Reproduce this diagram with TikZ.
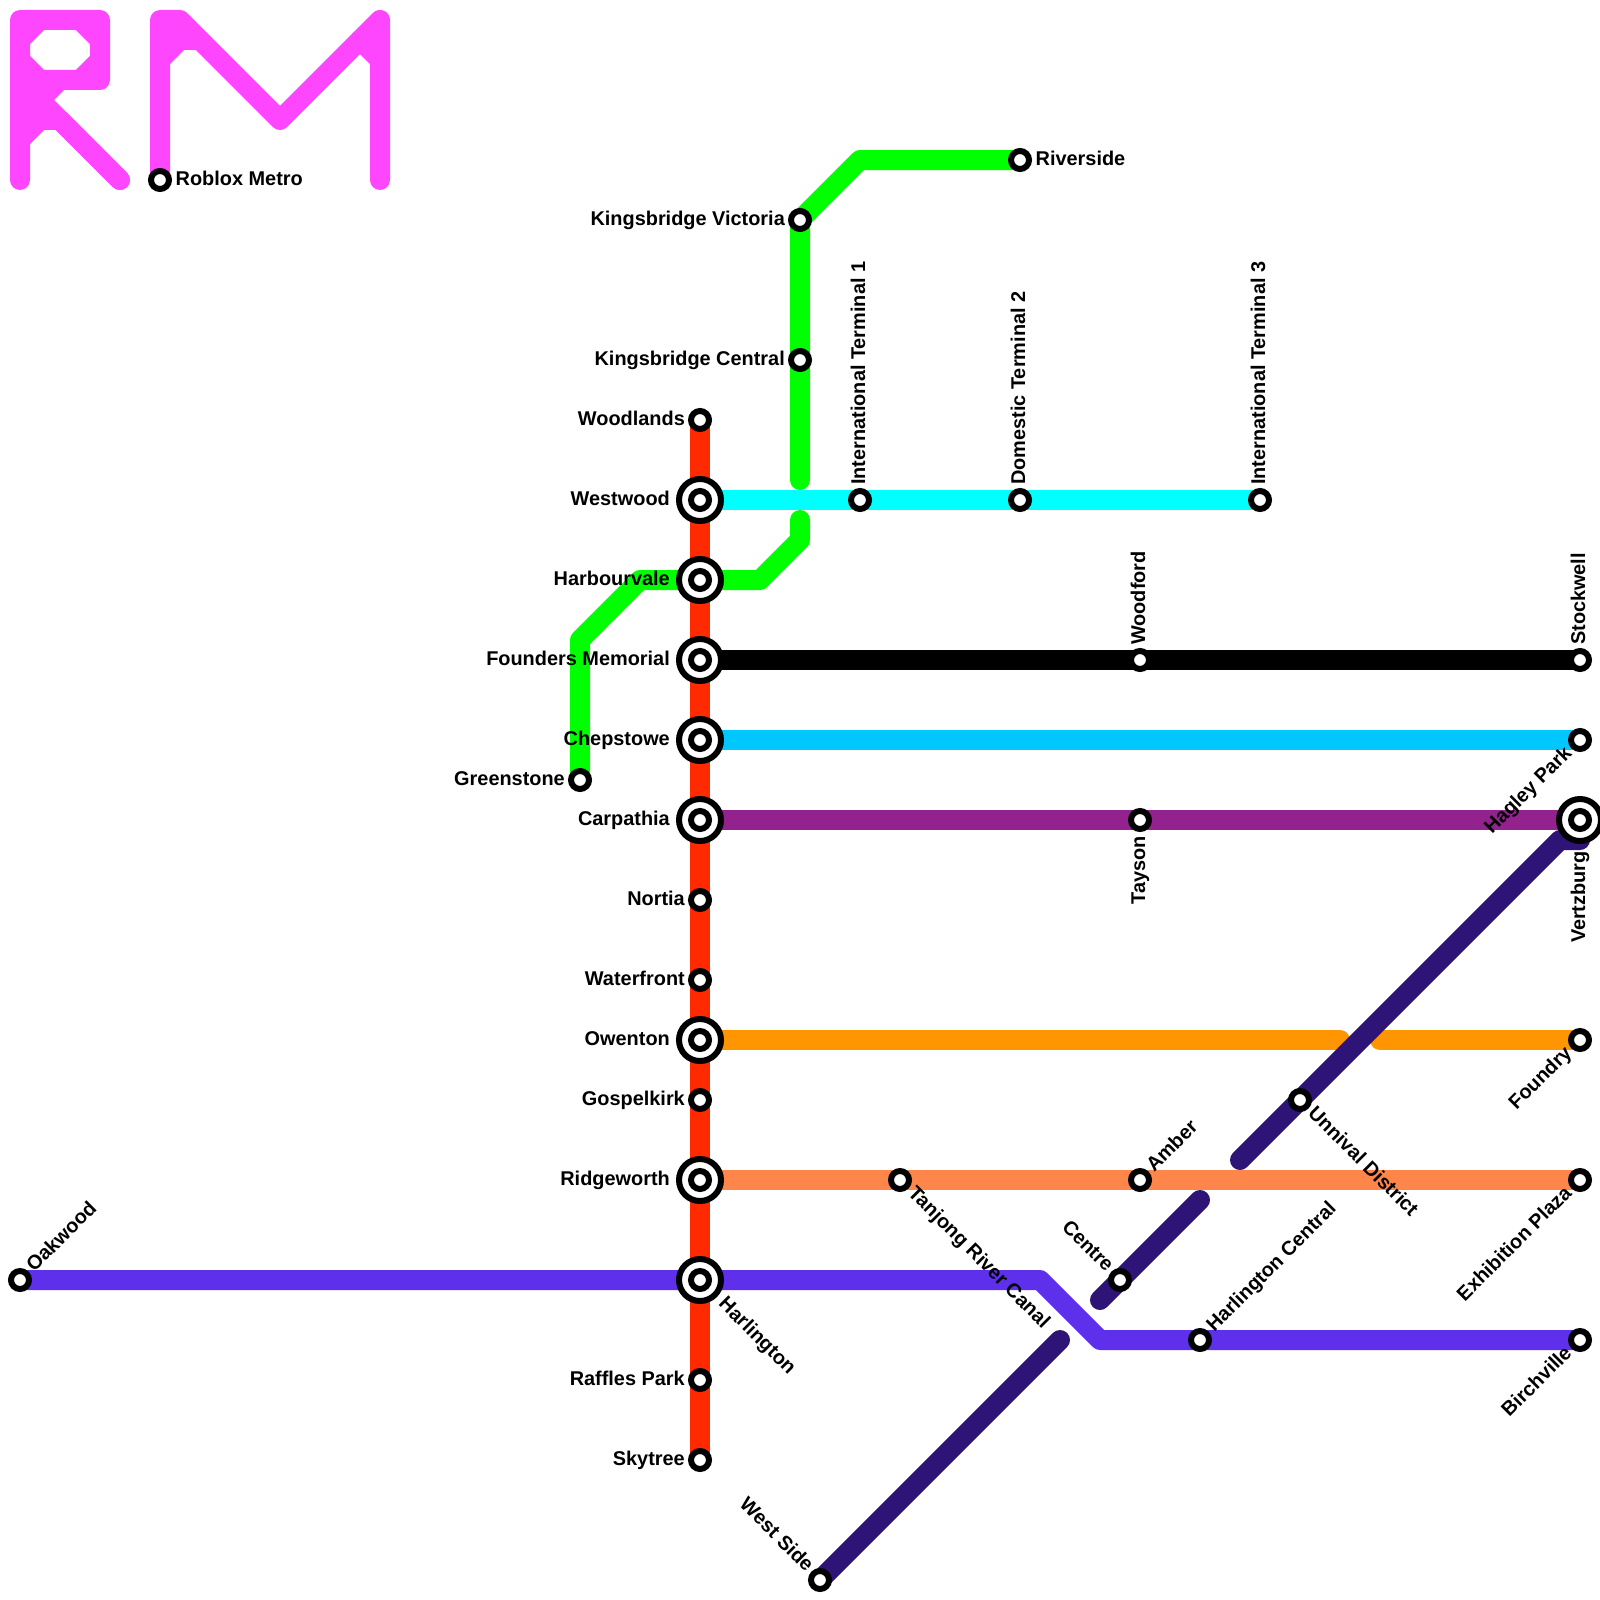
\documentclass[tikz,border=0pt]{standalone}
\usepackage{fontspec}
\setmainfont{Liberation Sans}
\usepackage{xcolor}
\usepackage{tikz}
\usetikzlibrary{backgrounds}
\definecolor{linered}{HTML}{FF2A00}
\definecolor{linegreen}{HTML}{00FF00}
\definecolor{linecyan}{HTML}{00FFFF}
\definecolor{linesky}{HTML}{00C8FF}
\definecolor{linepurple}{HTML}{93228F}
\definecolor{lineindigo}{HTML}{2D1476}
\definecolor{lineviolet}{HTML}{5E30EB}
\definecolor{lineorange}{HTML}{FF9500}
\definecolor{linecoral}{HTML}{FF864A}
\definecolor{logopink}{HTML}{FF46FF}
\tikzset{
  metro line/.style = {line width=20pt, line cap=round, line join=round},
  logo line/.style  = {metro line, logopink},
  stop/.style       = {circle, draw=black, fill=white, line width=6pt,
                       inner sep=0pt, minimum size=18pt},
  hub/.style        = {stop, minimum size=42pt,
                       path picture={\draw[line width=6pt]
                         (path picture bounding box.center) circle (9pt);}},
  stop name/.style  = {inner sep=0pt, font=\fontsize{19.9}{24}\selectfont\bfseries},
  name left/.style  = {stop name, anchor=base east, xshift=-15pt, yshift=-5pt},
  hub left/.style   = {name left, xshift=-15pt},
  name right/.style = {stop name, anchor=base west, xshift=15.5pt, yshift=-5pt},
  name up/.style    = {stop name, rotate=90, anchor=base west, xshift=15pt, yshift=-5pt},
  name down/.style  = {stop name, rotate=90, anchor=base east, xshift=-16pt, yshift=-5pt},
  name ne/.style    = {stop name, rotate=45, anchor=base west, xshift=15pt, yshift=-5pt},
  name se/.style    = {stop name, rotate=-45, anchor=base west, xshift=15pt, yshift=-5pt},
  name sw/.style    = {stop name, rotate=45, anchor=base east, xshift=-15pt, yshift=-5pt},
  name nw/.style    = {stop name, rotate=-45, anchor=base east, xshift=-15pt, yshift=-5pt},
}
\begin{document}
\begin{tikzpicture}[x=1pt,y=-1pt]
  \useasboundingbox (0,0) rectangle (1600,1600);
  \node[stop] (roblox) at (160,180) {};
  \node[stop] (woodlands) at (700,420) {};
  \node[hub] (westwood) at (700,500) {};
  \node[hub] (harbourvale) at (700,580) {};
  \node[hub] (founders) at (700,660) {};
  \node[hub] (chepstowe) at (700,740) {};
  \node[hub] (carpathia) at (700,820) {};
  \node[stop] (nortia) at (700,900) {};
  \node[stop] (waterfront) at (700,980) {};
  \node[hub] (owenton) at (700,1040) {};
  \node[stop] (gospelkirk) at (700,1100) {};
  \node[hub] (ridgeworth) at (700,1180) {};
  \node[hub] (harlington) at (700,1280) {};
  \node[stop] (raffles) at (700,1380) {};
  \node[stop] (skytree) at (700,1460) {};
  \node[stop] (riverside) at (1020,160) {};
  \node[stop] (kbvictoria) at (800,220) {};
  \node[stop] (kbcentral) at (800,360) {};
  \node[stop] (greenstone) at (580,780) {};
  \node[stop] (terminalone) at (860,500) {};
  \node[stop] (terminaltwo) at (1020,500) {};
  \node[stop] (terminalthree) at (1260,500) {};
  \node[stop] (woodford) at (1140,660) {};
  \node[stop] (stockwell) at (1580,660) {};
  \node[stop] (hagley) at (1580,740) {};
  \node[stop] (tayson) at (1140,820) {};
  \node[hub] (vertzburg) at (1580,820) {};
  \node[stop] (foundry) at (1580,1040) {};
  \node[stop] (unnival) at (1300,1100) {};
  \node[stop] (tanjong) at (900,1180) {};
  \node[stop] (amber) at (1140,1180) {};
  \node[stop] (exhibition) at (1580,1180) {};
  \node[stop] (oakwood) at (20,1280) {};
  \node[stop] (centre) at (1120,1280) {};
  \node[stop] (harlingtonc) at (1200,1340) {};
  \node[stop] (birchville) at (1580,1340) {};
  \node[stop] (westside) at (820,1580) {};
  \coordinate (riverbend) at (860,160);
  \coordinate (greenstopa) at (800,480);
  \coordinate (greenstopb) at (800,520);
  \coordinate (greenbenda) at (800,540);
  \coordinate (greenbendb) at (760,580);
  \coordinate (greenbendc) at (640,580);
  \coordinate (greenbendd) at (580,640);
  \coordinate (orangestop) at (1340,1040);
  \coordinate (orangestart) at (1380,1040);
  \coordinate (violetbenda) at (1040,1280);
  \coordinate (violetbendb) at (1100,1340);
  \coordinate (indigostart) at (1240,1160);
  \coordinate (indigobenda) at (1560,840);
  \coordinate (indigobendb) at (1580,840);
  \coordinate (centrestart) at (1100,1300);
  \coordinate (centrestop) at (1200,1200);
  \coordinate (westsidestop) at (1060,1340);
  \begin{scope}[on background layer]
    \draw[logo line] (20,180) -- (20,20) -- (100,20) -- (100,80) -- (40,80) -- (20,100);
    \draw[logo line] (20,40) -- (40,20);
    \draw[logo line] (80,20) -- (100,40);
    \draw[logo line] (100,60) -- (80,80);
    \draw[logo line] (40,80) -- (20,60);
    \draw[logo line] (60,80) -- (20,120);
    \draw[logo line] (20,140) -- (40,120) -- (60,120) -- (120,180);
    \draw[logo line] (40,100) -- (120,180);
    \draw[logo line] (roblox.center) -- (160,20) -- (180,20) -- (280,120) -- (380,20) -- (380,180);
    \draw[logo line] (160,60) -- (180,40) -- (160,40);
    \draw[logo line] (180,40) -- (196,40);
    \draw[logo line] (360,40) -- (380,60);
    \draw[metro line, linered] (woodlands.center) -- (skytree.center);
    \draw[metro line, linegreen] (riverside.center) -- (riverbend) -- (kbvictoria.center) -- (kbcentral.center) -- (greenstopa);
    \draw[metro line, linegreen] (greenstopb) -- (greenbenda) -- (greenbendb) -- (greenbendc) -- (greenbendd) -- (greenstone.center);
    \draw[metro line, linecyan] (westwood.center) -- (terminalthree.center);
    \draw[metro line, black] (founders.center) -- (stockwell.center);
    \draw[metro line, linesky] (chepstowe.center) -- (hagley.center);
    \draw[metro line, linepurple] (carpathia.center) -- (vertzburg.center);
    \draw[metro line, lineorange] (owenton.center) -- (orangestop);
    \draw[metro line, lineorange] (orangestart) -- (foundry.center);
    \draw[metro line, linecoral] (ridgeworth.center) -- (exhibition.center);
    \draw[metro line, lineviolet] (oakwood.center) -- (violetbenda) -- (violetbendb) -- (birchville.center);
    \draw[metro line, lineindigo] (indigostart) -- (indigobenda) -- (indigobendb) -- (vertzburg.center);
    \draw[metro line, lineindigo] (centrestart) -- (centrestop);
    \draw[metro line, lineindigo] (westside.center) -- (westsidestop);
  \end{scope}
  \node[name right] (robloxname) at (roblox) {Roblox Metro};
  \node[name right] (riversidename) at (riverside) {Riverside};
  \node[name left] (kbvictorianame) at (kbvictoria) {Kingsbridge Victoria};
  \node[name left] (kbcentralname) at (kbcentral) {Kingsbridge Central};
  \node[name left] (woodlandsname) at (woodlands) {Woodlands};
  \node[hub left] (westwoodname) at (westwood) {Westwood};
  \node[hub left] (harbourvalename) at (harbourvale) {Harbourvale};
  \node[hub left] (foundersname) at (founders) {Founders Memorial};
  \node[hub left] (chepstowename) at (chepstowe) {Chepstowe};
  \node[hub left] (carpathianame) at (carpathia) {Carpathia};
  \node[name left] (greenstonename) at (greenstone) {Greenstone};
  \node[name left] (nortianame) at (nortia) {Nortia};
  \node[name left] (waterfrontname) at (waterfront) {Waterfront};
  \node[hub left] (owentonname) at (owenton) {Owenton};
  \node[name left] (gospelkirkname) at (gospelkirk) {Gospelkirk};
  \node[hub left] (ridgeworthname) at (ridgeworth) {Ridgeworth};
  \node[name left] (rafflesname) at (raffles) {Raffles Park};
  \node[name left] (skytreename) at (skytree) {Skytree};
  \node[name up] (terminalonename) at (terminalone) {International Terminal 1};
  \node[name up] (terminaltwoname) at (terminaltwo) {Domestic Terminal 2};
  \node[name up] (terminalthreename) at (terminalthree) {International Terminal 3};
  \node[name up] (woodfordname) at (woodford) {Woodford};
  \node[name up] (stockwellname) at (stockwell) {Stockwell};
  \node[name down] (taysonname) at (tayson) {Tayson};
  \node[name down, xshift=-15pt] (vertzburgname) at (vertzburg) {Vertzburg};
  \node[name sw] (hagleyname) at (hagley) {Hagley Park};
  \node[name sw] (foundryname) at (foundry) {Foundry};
  \node[name sw] (exhibitionname) at (exhibition) {Exhibition Plaza};
  \node[name sw] (birchvillename) at (birchville) {Birchville};
  \node[name ne] (oakwoodname) at (oakwood) {Oakwood};
  \node[name ne] (ambername) at (amber) {Amber};
  \node[name ne] (harlingtoncname) at (harlingtonc) {Harlington Central};
  \node[name se] (unnivalname) at (unnival) {Unnival District};
  \node[name se] (tanjongname) at (tanjong) {Tanjong River Canal};
  \node[name se, xshift=15pt] (harlingtonname) at (harlington) {Harlington};
  \node[name nw] (centrename) at (centre) {Centre};
  \node[name nw] (westsidename) at (westside) {West Side};
\end{tikzpicture}
\end{document}
